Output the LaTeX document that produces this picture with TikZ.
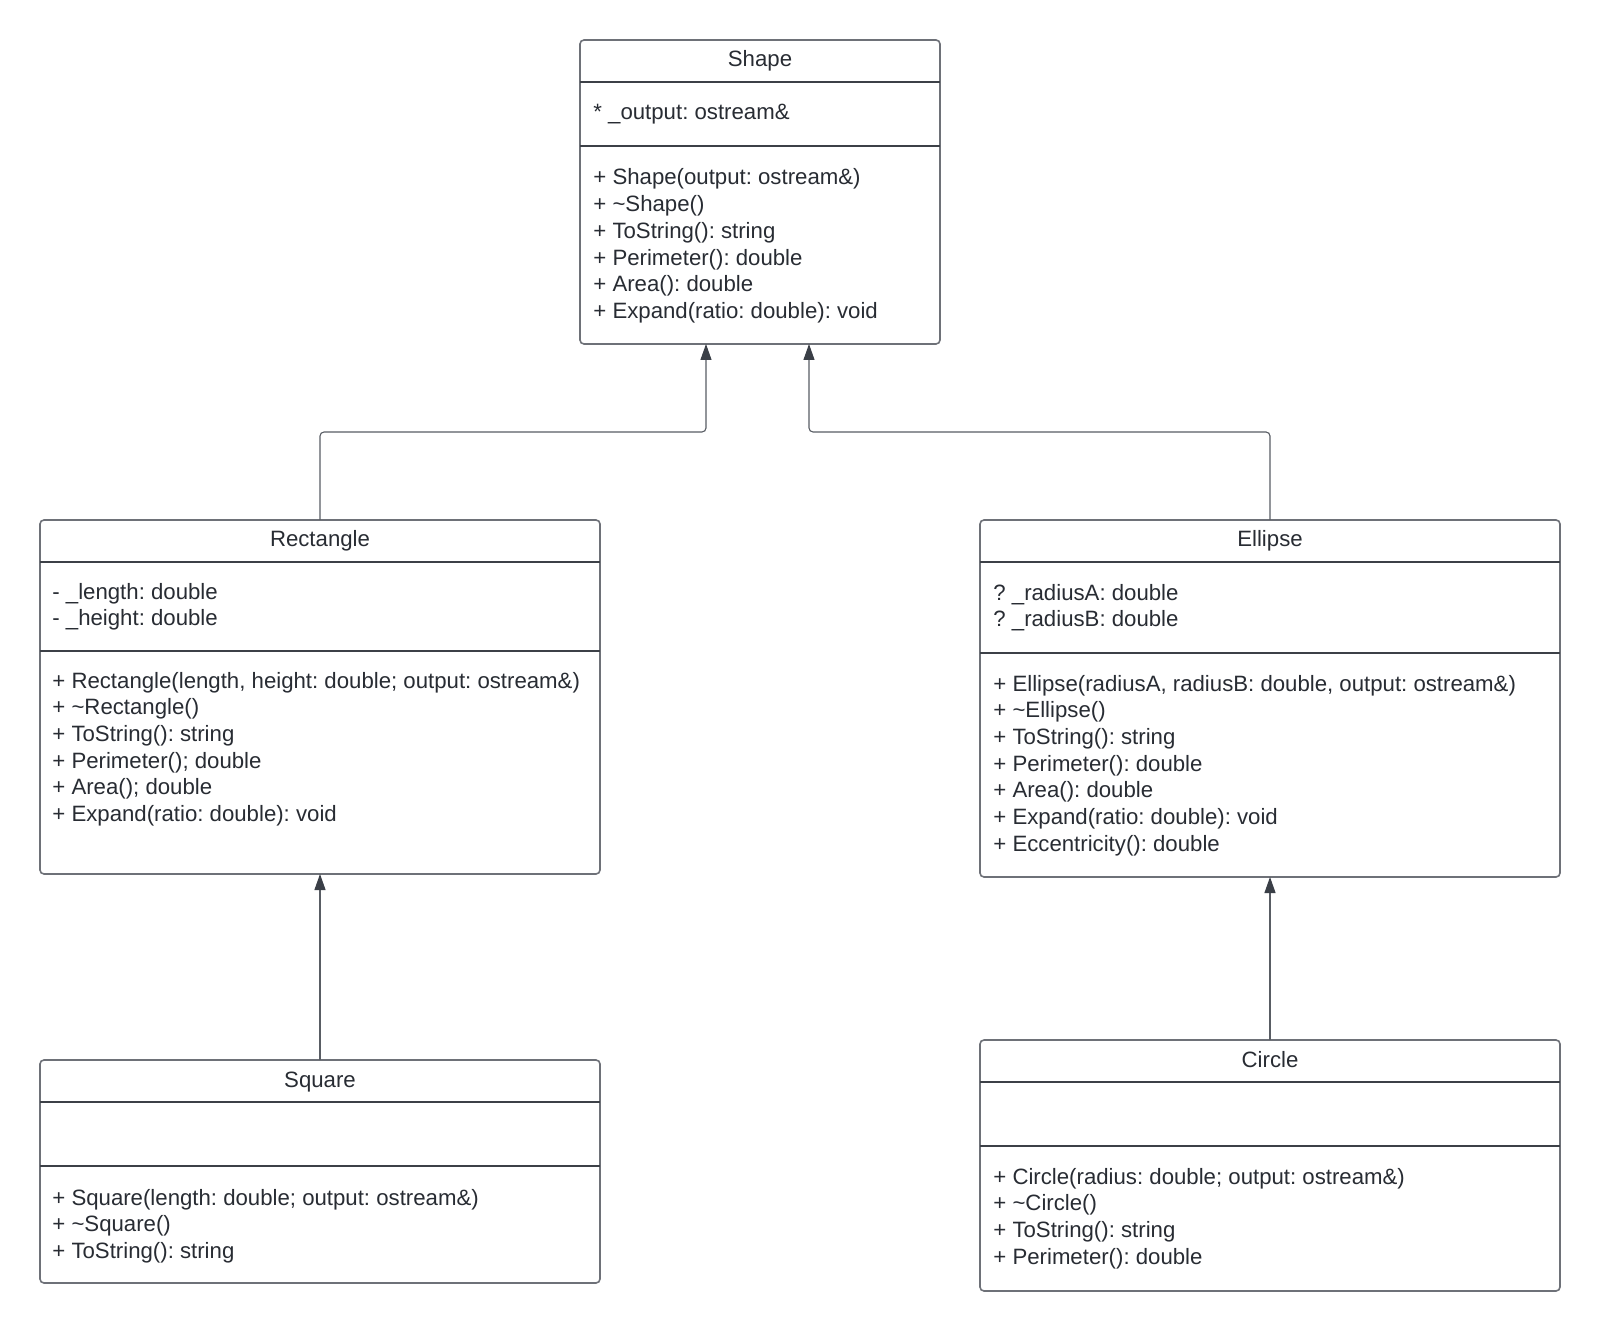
\documentclass[tikz,border=0pt]{standalone}
\usepackage{fontspec}
\setmainfont{Liberation Sans}
\usetikzlibrary{arrows.meta,calc}
\definecolor{ink}{HTML}{282C33}
\definecolor{edge}{HTML}{6E7178}
\definecolor{rule}{HTML}{3C4047}
\definecolor{wire}{HTML}{595D64}
\definecolor{tip}{HTML}{3A3F47}

% one text row per member, first baseline at #3, rows 26.7 units apart
\newcommand\classrows[4]{%
  \foreach \rowtxt [count=\k from 0] in {#4} {%
    \node[rowtext] (#1\k) at (#2,{#3+\k*26.7}) {\rowtxt};}}

\begin{document}
\frenchspacing
\begin{tikzpicture}[x=0.5pt,y=-0.5pt,
  classbox/.style={draw=edge,line width=0.8pt,rounded corners=2pt,inner sep=0pt,outer sep=0pt},
  rowtext/.style={anchor=base west,inner sep=0pt,text=ink,font=\fontsize{11.1pt}{13pt}\selectfont\frenchspacing},
  titletext/.style={anchor=base,inner sep=0pt,text=ink,font=\fontsize{11.1pt}{13pt}\selectfont},
  divider/.style={draw=rule,line width=0.55pt},
  inherit/.style={draw=wire,line width=0.55pt,rounded corners=2pt,
    -{Triangle[length=8pt,width=5.5pt,color=tip]}}]

\fill[white] (0,0) rectangle (1600,1331);
\useasboundingbox (0,0) rectangle (1600,1331);

% ---- class frames ----
\node[classbox,minimum width=180pt,minimum height=152pt] (shape) at (760,192) {};
\node[classbox,minimum width=280pt,minimum height=177pt] (rect) at (320,697) {};
\node[classbox,minimum width=290pt,minimum height=178.5pt] (ell) at (1270,698.5) {};
\node[classbox,minimum width=280pt,minimum height=111.5pt] (sq) at (320,1171.5) {};
\node[classbox,minimum width=290pt,minimum height=125.5pt] (circ) at (1270,1165.5) {};

% ---- compartment rules ----
\draw[divider] (580,82) -- (940,82);
\draw[divider] (580,146) -- (940,146);
\draw[divider] (40,562) -- (600,562);
\draw[divider] (40,651) -- (600,651);
\draw[divider] (980,562) -- (1560,562);
\draw[divider] (980,653) -- (1560,653);
\draw[divider] (40,1102) -- (600,1102);
\draw[divider] (40,1166) -- (600,1166);
\draw[divider] (980,1082) -- (1560,1082);
\draw[divider] (980,1146) -- (1560,1146);

% ---- Shape ----
\node[titletext] (shapeT) at (760,67) {Shape};
\classrows{shapeA}{593}{120}{{* \_output: ostream\&}}
\classrows{shapeM}{593}{185}{{+ Shape(output: ostream\&)},
  {+ \textasciitilde Shape()},
  {+ ToString(): string},
  {+ Perimeter(): double},
  {+ Area(): double},
  {+ Expand(ratio: double): void}}

% ---- Rectangle ----
\node[titletext] (rectT) at (320,546) {Rectangle};
\classrows{rectA}{52}{599}{{- \_length: double},{- \_height: double}}
\classrows{rectM}{52}{688}{{+ Rectangle(length, height: double; output: ostream\&)},
  {+ \textasciitilde Rectangle()},
  {+ ToString(): string},
  {+ Perimeter(); double},
  {+ Area(); double},
  {+ Expand(ratio: double): void}}

% ---- Ellipse ----
\node[titletext] (ellT) at (1270,546) {Ellipse};
\classrows{ellA}{993}{600}{{? \_radiusA: double},{? \_radiusB: double}}
\classrows{ellM}{993}{691}{{+ Ellipse(radiusA, radiusB: double, output: ostream\&)},
  {+ \textasciitilde Ellipse()},
  {+ ToString(): string},
  {+ Perimeter(): double},
  {+ Area(): double},
  {+ Expand(ratio: double): void},
  {+ Eccentricity(): double}}

% ---- Square ----
\node[titletext] (sqT) at (320,1087) {Square};
\classrows{sqM}{52}{1205}{{+ Square(length: double; output: ostream\&)},
  {+ \textasciitilde Square()},
  {+ ToString(): string}}

% ---- Circle ----
\node[titletext] (circT) at (1270,1067) {Circle};
\classrows{circM}{993}{1184}{{+ Circle(radius: double; output: ostream\&)},
  {+ \textasciitilde Circle()},
  {+ ToString(): string},
  {+ Perimeter(): double}}

% ---- generalisation arrows ----
\coordinate (shapeInL) at (706,344);
\coordinate (shapeInR) at (809,344);
\draw[inherit] (rect.north) -- ++(0,-88) -| (shapeInL);
\draw[inherit] (ell.north) -- ++(0,-88) -| (shapeInR);
\draw[inherit] (sq.north) -- (rect.south);
\draw[inherit] (circ.north) -- (ell.south);

\end{tikzpicture}
\end{document}
